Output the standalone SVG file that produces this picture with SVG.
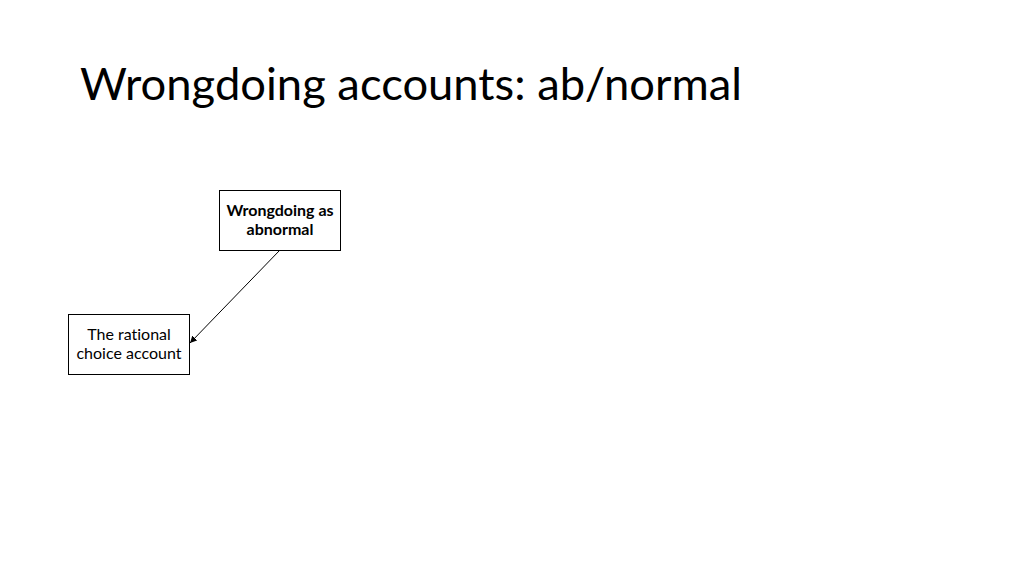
<svg xmlns="http://www.w3.org/2000/svg" width="1024" height="576" viewBox="0 0 1024 576">
<defs>
<style>
.box{fill:#fff;stroke:#000;stroke-width:1}
.t{font-family:Lato,"Open Sans",sans-serif;font-size:16px;fill:#000;text-anchor:middle;font-variant-ligatures:none}
.b{font-weight:bold}
.title{font-family:Lato,"Open Sans",sans-serif;font-size:44px;fill:#000;font-variant-ligatures:none}
</style>
<marker id="arr" viewBox="0 0 10 10" refX="10" refY="5" markerWidth="7" markerHeight="7" orient="auto" markerUnits="userSpaceOnUse">
<path d="M0,0 L10,5 L0,10 Z" fill="#000"/>
</marker>
</defs>
<rect width="1024" height="576" fill="#fff"/>
<text class="title" x="80" y="100" textLength="662" lengthAdjust="spacingAndGlyphs">Wrongdoing accounts: ab/normal</text>
<g id="connectors">
<line x1="280" y1="250" x2="190" y2="343" stroke="#000" stroke-width="1" marker-end="url(#arr)"/>
</g>
<g id="node-abnormal">
<rect class="box" x="219.5" y="190.5" width="121" height="60"/>
<text class="t b" x="280" y="216">Wrongdoing as</text>
<text class="t b" x="280" y="235">abnormal</text>
</g>
<g id="node-rational">
<rect class="box" x="68.5" y="314.5" width="121" height="60"/>
<text class="t" x="129" y="340">The rational</text>
<text class="t" x="129" y="359">choice account</text>
</g>
</svg>
